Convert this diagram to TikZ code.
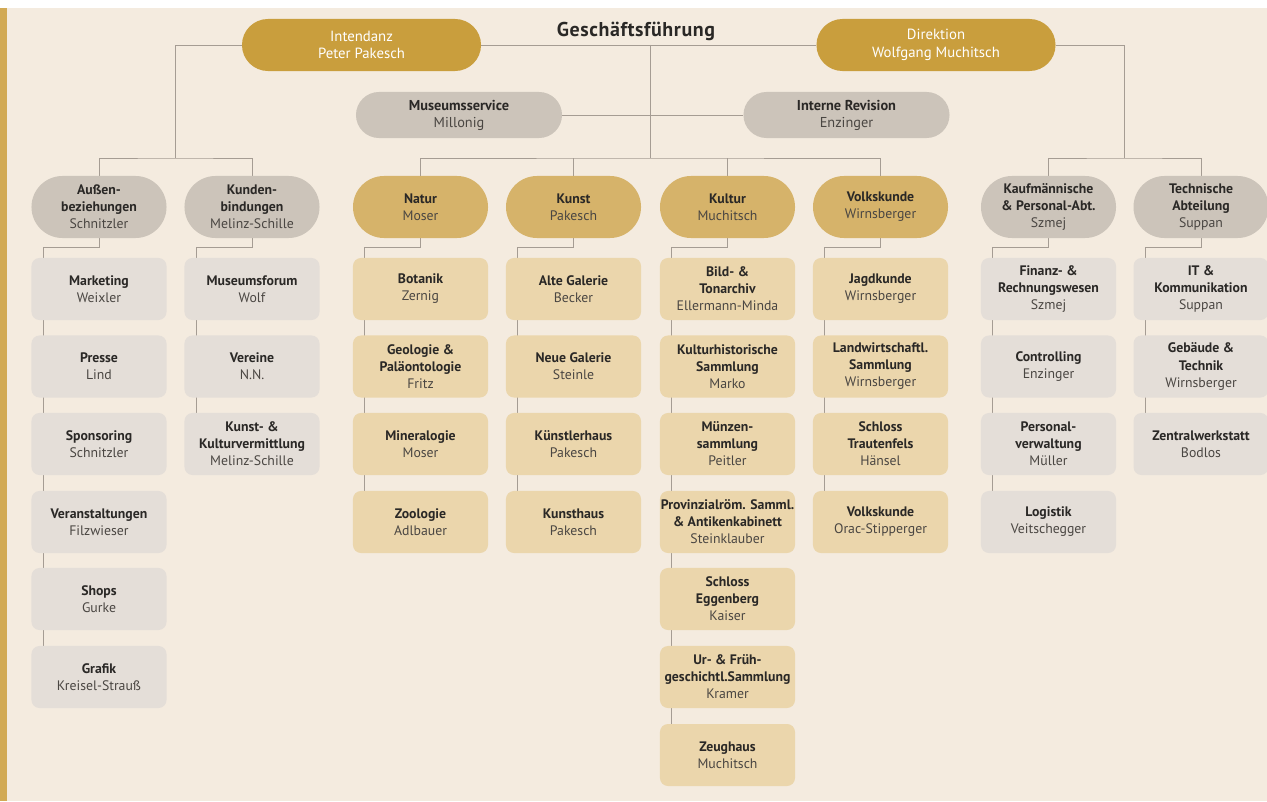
\documentclass[tikz,border=0pt]{standalone}
\usepackage{fontspec}
\setmainfont{PT Sans}
\usepackage{xcolor}
\usepackage{tikz}
\usetikzlibrary{positioning,backgrounds}

\definecolor{cream}{HTML}{F4EBDF}
\definecolor{goldbar}{HTML}{D2AA55}
\definecolor{golddark}{HTML}{C99E3D}
\definecolor{goldhead}{HTML}{D6B36A}
\definecolor{goldbox}{HTML}{EBD6AC}
\definecolor{grayhead}{HTML}{CCC4BA}
\definecolor{graybox}{HTML}{E4DED8}
\definecolor{linegray}{HTML}{A59C93}
\definecolor{textdark}{HTML}{2A2826}
\definecolor{namegray}{HTML}{4A4642}
\newcommand{\nm}[1]{{\mdseries\color{namegray}#1}}

\begin{document}
\begin{tikzpicture}[x=0.025cm,y=-0.025cm,
  every node/.style={font=\fontsize{9.8}{12.1}\selectfont\bfseries,text=textdark,align=center,inner sep=0pt},
  chief/.style={fill=golddark,text=white,font=\fontsize{10.5}{12.6}\selectfont,minimum width=5.975cm,minimum height=1.3cm,rounded corners=0.65cm},
  staff/.style={fill=grayhead,font=\fontsize{10.2}{12.2}\selectfont\bfseries,minimum width=5.15cm,minimum height=1.15cm,rounded corners=0.575cm},
  ghead/.style={fill=grayhead,minimum width=3.375cm,minimum height=1.55cm,rounded corners=0.775cm},
  ahead/.style={ghead,fill=goldhead},
  gbox/.style={fill=graybox,minimum width=3.375cm,minimum height=1.55cm,rounded corners=0.2cm},
  abox/.style={gbox,fill=goldbox},
  link/.style={draw=linegray,line width=0.6pt}]
  \useasboundingbox (0,0) rectangle (1267,801);
  % management
  \node[chief] (intendanz) at (361.5,45) {Intendanz\\Peter Pakesch};
  \node[chief] (direktion) at (936,45) {Direktion\\Wolfgang Muchitsch};
  \node[font=\fontsize{14.2}{16}\selectfont\bfseries\addfontfeature{LetterSpace=3}] (gf) at (636,31.5) {Geschäftsführung};
  \node[staff] (mservice) at (459,115) {Museumsservice\\\nm{Millonig}};
  \node[staff] (irevision) at (846.5,115) {Interne Revision\\\nm{Enzinger}};
  \coordinate (gtop) at (650,45);
  \coordinate (lsplit) at (175,158);
  \coordinate (msplit) at (650,158);
  \coordinate (rsplit) at (1124,158);
  % departments
  \node[ghead] (aussen) at (99,207) {Außen-\\beziehungen\\\nm{Schnitzler}};
  \node[ghead] (kunden) at (252,207) {Kunden-\\bindungen\\\nm{Melinz-Schille}};
  \node[ahead] (natur) at (420.5,207) {Natur\\\nm{Moser}};
  \node[ahead] (kunst) at (573.5,207) {Kunst\\\nm{Pakesch}};
  \node[ahead] (kultur) at (727.5,207) {Kultur\\\nm{Muchitsch}};
  \node[ahead] (volk) at (880.5,207) {Volkskunde\\\nm{Wirnsberger}};
  \node[ghead] (kaufm) at (1048.5,207) {Kaufmännische\\\& Personal-Abt.\\\nm{Szmej}};
  \node[ghead] (technik) at (1201,207) {Technische\\Abteilung\\\nm{Suppan}};
  % Außenbeziehungen
  \node[gbox] (marketing) at (99,289) {Marketing\\\nm{Weixler}};
  \node[gbox] (presse) at (99,366.5) {Presse\\\nm{Lind}};
  \node[gbox] (sponsoring) at (99,444) {Sponsoring\\\nm{Schnitzler}};
  \node[gbox] (veranst) at (99,522) {Veranstaltungen\\\nm{Filzwieser}};
  \node[gbox] (shops) at (99,599) {Shops\\\nm{Gurke}};
  \node[gbox] (grafik) at (99,677) {Grafik\\\nm{Kreisel-Strauß}};
  % Kundenbindungen
  \node[gbox] (mforum) at (252,289) {Museumsforum\\\nm{Wolf}};
  \node[gbox] (vereine) at (252,366.5) {Vereine\\\nm{N.N.}};
  \node[gbox] (vermittl) at (252,444) {Kunst- \&\\Kulturvermittlung\\\nm{Melinz-Schille}};
  % Natur
  \node[abox] (botanik) at (420.5,289) {Botanik\\\nm{Zernig}};
  \node[abox] (geologie) at (420.5,366.5) {Geologie \&\\Paläontologie\\\nm{Fritz}};
  \node[abox] (mineral) at (420.5,444) {Mineralogie\\\nm{Moser}};
  \node[abox] (zoologie) at (420.5,522) {Zoologie\\\nm{Adlbauer}};
  % Kunst
  \node[abox] (altegal) at (573.5,289) {Alte Galerie\\\nm{Becker}};
  \node[abox] (neuegal) at (573.5,366.5) {Neue Galerie\\\nm{Steinle}};
  \node[abox] (kuenstler) at (573.5,444) {Künstlerhaus\\\nm{Pakesch}};
  \node[abox] (kunsthaus) at (573.5,522) {Kunsthaus\\\nm{Pakesch}};
  % Kultur
  \node[abox] (bildton) at (727.5,289) {Bild- \&\\Tonarchiv\\\nm{Ellermann-Minda}};
  \node[abox] (kulthist) at (727.5,366.5) {Kulturhistorische\\Sammlung\\\nm{Marko}};
  \node[abox] (muenzen) at (727.5,444) {Münzen-\\sammlung\\\nm{Peitler}};
  \node[abox] (provinz) at (727.5,522) {Provinzialröm. Samml.\\\& Antikenkabinett\\\nm{Steinklauber}};
  \node[abox] (eggenberg) at (727.5,599) {Schloss\\Eggenberg\\\nm{Kaiser}};
  \node[abox] (urfrueh) at (727.5,677) {Ur- \& Früh-\\geschichtl.Sammlung\\\nm{Kramer}};
  \node[abox] (zeughaus) at (727.5,755) {Zeughaus\\\nm{Muchitsch}};
  % Volkskunde
  \node[abox] (jagd) at (880.5,289) {Jagdkunde\\\nm{Wirnsberger}};
  \node[abox] (landw) at (880.5,366.5) {Landwirtschaftl.\\Sammlung\\\nm{Wirnsberger}};
  \node[abox] (trautenfels) at (880.5,444) {Schloss\\Trautenfels\\\nm{Hänsel}};
  \node[abox] (volkssamml) at (880.5,522) {Volkskunde\\\nm{Orac-Stipperger}};
  % Kaufmaennische & Personal-Abt.
  \node[gbox] (finanz) at (1048.5,289) {Finanz- \&\\Rechnungswesen\\\nm{Szmej}};
  \node[gbox] (controlling) at (1048.5,366.5) {Controlling\\\nm{Enzinger}};
  \node[gbox] (personal) at (1048.5,444) {Personal-\\verwaltung\\\nm{Müller}};
  \node[gbox] (logistik) at (1048.5,522) {Logistik\\\nm{Veitschegger}};
  % Technische Abteilung
  \node[gbox] (itkomm) at (1201,289) {IT \&\\Kommunikation\\\nm{Suppan}};
  \node[gbox] (gebaeude) at (1201,366.5) {Gebäude \&\\Technik\\\nm{Wirnsberger}};
  \node[gbox] (werkstatt) at (1201,444) {Zentralwerkstatt\\\nm{Bodlos}};
  \begin{scope}[on background layer]
    % page
    \fill[cream] (7,8) rectangle (1267,801);
    \fill[goldbar] (0,8) rectangle (7,801);
    % lines
    \draw[link] (intendanz.west) -| (lsplit);
    \draw[link] (aussen.north) |- (lsplit) -| (kunden.north);
    \draw[link] (intendanz.east) -- (direktion.west);
    \draw[link] (gtop) -- (msplit);
    \draw[link] (mservice.east) -- (irevision.west);
    \draw[link] (natur.north) |- (msplit) -| (volk.north);
    \draw[link] (kunst.north) -- (kunst.north |- msplit);
    \draw[link] (kultur.north) -- (kultur.north |- msplit);
    \draw[link] (direktion.east) -| (rsplit);
    \draw[link] (kaufm.north) |- (rsplit) -| (technik.north);
    \draw[link] (aussen.south) -- ++(0,9) -| ([xshift=0.3cm]grafik.north west);
    \draw[link] (kunden.south) -- ++(0,9) -| ([xshift=0.3cm]vermittl.north west);
    \draw[link] (natur.south) -- ++(0,9) -| ([xshift=0.3cm]zoologie.north west);
    \draw[link] (kunst.south) -- ++(0,9) -| ([xshift=0.3cm]kunsthaus.north west);
    \draw[link] (kultur.south) -- ++(0,9) -| ([xshift=0.3cm]zeughaus.north west);
    \draw[link] (volk.south) -- ++(0,9) -| ([xshift=0.3cm]volkssamml.north west);
    \draw[link] (kaufm.south) -- ++(0,9) -| ([xshift=0.3cm]logistik.north west);
    \draw[link] (technik.south) -- ++(0,9) -| ([xshift=0.3cm]werkstatt.north west);
  \end{scope}
\end{tikzpicture}
\end{document}
